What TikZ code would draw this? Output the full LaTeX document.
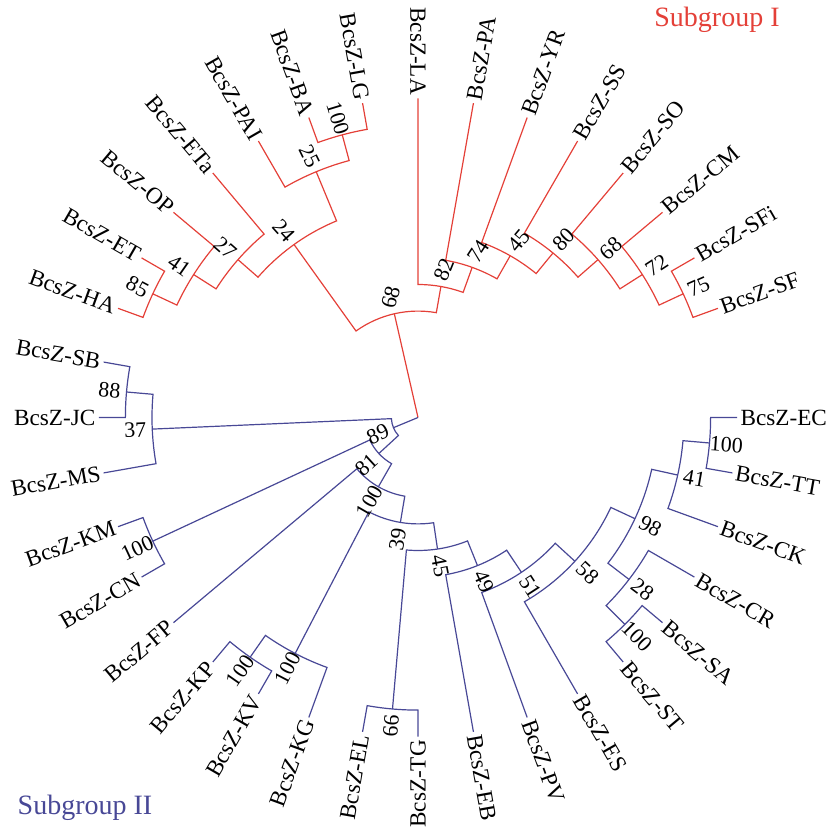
\documentclass[tikz,border=0pt]{standalone}
\usepackage{fontspec}
\setmainfont{Liberation Serif}

\definecolor{grpred}{RGB}{228,64,56}
\definecolor{grpblue}{RGB}{72,72,150}

\begin{document}
\begin{tikzpicture}[
  x=1pt, y=1pt,
  redbr/.style={draw=grpred, line width=0.6pt},
  bluebr/.style={draw=grpblue, line width=0.6pt},
  leaf/.style={inner sep=1.5pt, font=\fontsize{11.6}{14}\selectfont},
  boot/.style={inner sep=0pt, font=\fontsize{11}{13}\selectfont},
  grouplabel/.style={font=\fontsize{14}{16}\selectfont}
]
\useasboundingbox (-209,-205.25) rectangle (208.5,208.75);
\coordinate (root) at (0,0);

% leaf tips, right half
\foreach \nm/\ang in {PA/80, YR/70, SS/60, SO/50, CM/40, SFi/30, SF/20,
    EC/0, TT/-10, CK/-20, CR/-30, SA/-40, ST/-50, ES/-60, PV/-70, EB/-80}{
  \coordinate (\nm) at (\ang:159.6);
  \node[leaf, anchor=west, rotate=\ang] (l\nm) at (\nm) {BcsZ-\nm};
}
% leaf tips, left half (flipped)
\foreach \nm/\ang in {LA/90, LG/100, BA/110, PAI/120, ETa/130, OP/140, ET/150, HA/160,
    SB/170, JC/180, MS/190, KM/200, CN/210, FP/220, KP/230, KV/240, KG/250, EL/260, TG/270}{
  \coordinate (\nm) at (\ang:159.6);
  \node[leaf, anchor=east, rotate=\ang+180] (l\nm) at (\nm) {BcsZ-\nm};
}

% internal nodes: name/angle/level
\foreach \nm/\ang/\lev in {r75/25/11, r72/32.5/10, r68b/41.25/9, r80/50.625/8,
    r45/60.3125/7, r74/70.15625/6, r82/80.078125/5, r85/155/11, r41/147.5/10,
    r27/138.75/9, r100/105/11, r25/112.5/10, r24/125.625/8, r68/102.8515625/4,
    b100a/-5/11, b41/-12.5/10, b100c/-45/11, b28/-37.5/10, b98/-25/9, b58/-42.5/8,
    b51/-56.25/7, b49/-68.125/6, b66/-95/11, b45/-81.5625/5, b100d/-125/11,
    b100e/-117.5/10, b39/-99.53125/4, b100b/-119.765625/3, b100k/-155/11,
    b81/-137.3828125/2, b88/-185/11, b37/-177.5/10, b89/-157.44140625/1}
  \coordinate (\nm) at (\ang:{\lev*13.3});

% Subgroup I
\foreach \lev/\ca/\aa/\cb/\ab in {11/SFi/30/SF/20, 10/CM/40/r75/25, 9/SO/50/r72/32.5,
    8/SS/60/r68b/41.25, 7/YR/70/r80/50.625, 6/PA/80/r45/60.3125, 5/LA/90/r74/70.15625,
    11/HA/160/ET/150, 10/r85/155/OP/140, 9/r41/147.5/ETa/130, 11/BA/110/LG/100,
    10/PAI/120/r100/105, 8/r27/138.75/r25/112.5, 4/r24/125.625/r82/80.078125}
  \draw[redbr] (\ca) -- (\aa:{\lev*13.3}) arc[start angle=\aa, end angle=\ab, radius={\lev*13.3}] -- (\cb);
\draw[redbr] (root) -- (r68);

% Subgroup II
\foreach \lev/\ca/\aa/\cb/\ab in {11/EC/0/TT/-10, 10/b100a/-5/CK/-20, 11/SA/-40/ST/-50,
    10/CR/-30/b100c/-45, 9/b41/-12.5/b28/-37.5, 8/b98/-25/ES/-60, 7/b58/-42.5/PV/-70,
    6/b51/-56.25/EB/-80, 11/TG/-90/EL/-100, 5/b49/-68.125/b66/-95, 11/KV/-120/KP/-130,
    10/KG/-110/b100d/-125, 4/b45/-81.5625/b100e/-117.5, 3/b39/-99.53125/FP/-140,
    11/CN/-150/KM/-160, 2/b100b/-119.765625/b100k/-155, 11/JC/-180/SB/-190,
    10/MS/-170/b88/-185, 1/b81/-137.3828125/b37/-177.5}
  \draw[bluebr] (\ca) -- (\aa:{\lev*13.3}) arc[start angle=\aa, end angle=\ab, radius={\lev*13.3}] -- (\cb);
\draw[bluebr] (root) -- (b89);

% bootstrap values
\foreach \ang/\lev/\rot/\val [count=\i] in {102.85/4/75/68, 80.08/5/68/82, 70.16/6/57/74,
    60.31/7/50/45, 50.63/8/45/80, 41.25/9/41/68, 32.5/10/33/72, 25/11/24/75,
    125.63/8/-48/24, 112.5/10/-64/25, 105/11/-73/100, 138.75/9/-41/27, 147.5/10/-35/41,
    155/11/-28/85,
    -157.44/1/25/89, -137.38/2/42.6/81, -119.77/3/60.2/100, -99.53/4/80.5/39,
    -81.56/5/-79/45, -68.13/6/-66/49, -56.25/7/-57/51, -42.5/8/-43/58, -25/9/-28/98,
    -12.5/10/-10/41, -5/11/-4/100, -37.5/10/-37/28, -45/11/-45/100, -125/11/55/100,
    -117.5/10/62.5/100, -95/11/85/66, -155/11/25/100, -177.5/10/2.5/37, -185/11/-5/88}
  \node[boot, rotate=\rot] (bs\i) at (\ang:{\lev*13.3+8.5}) {\val};

\node[grouplabel, text=grpred] (sgI) at (149.5,198.75) {Subgroup I};
\node[grouplabel, text=grpblue] (sgII) at (-166.5,-195.25) {Subgroup II};
\end{tikzpicture}
\end{document}
